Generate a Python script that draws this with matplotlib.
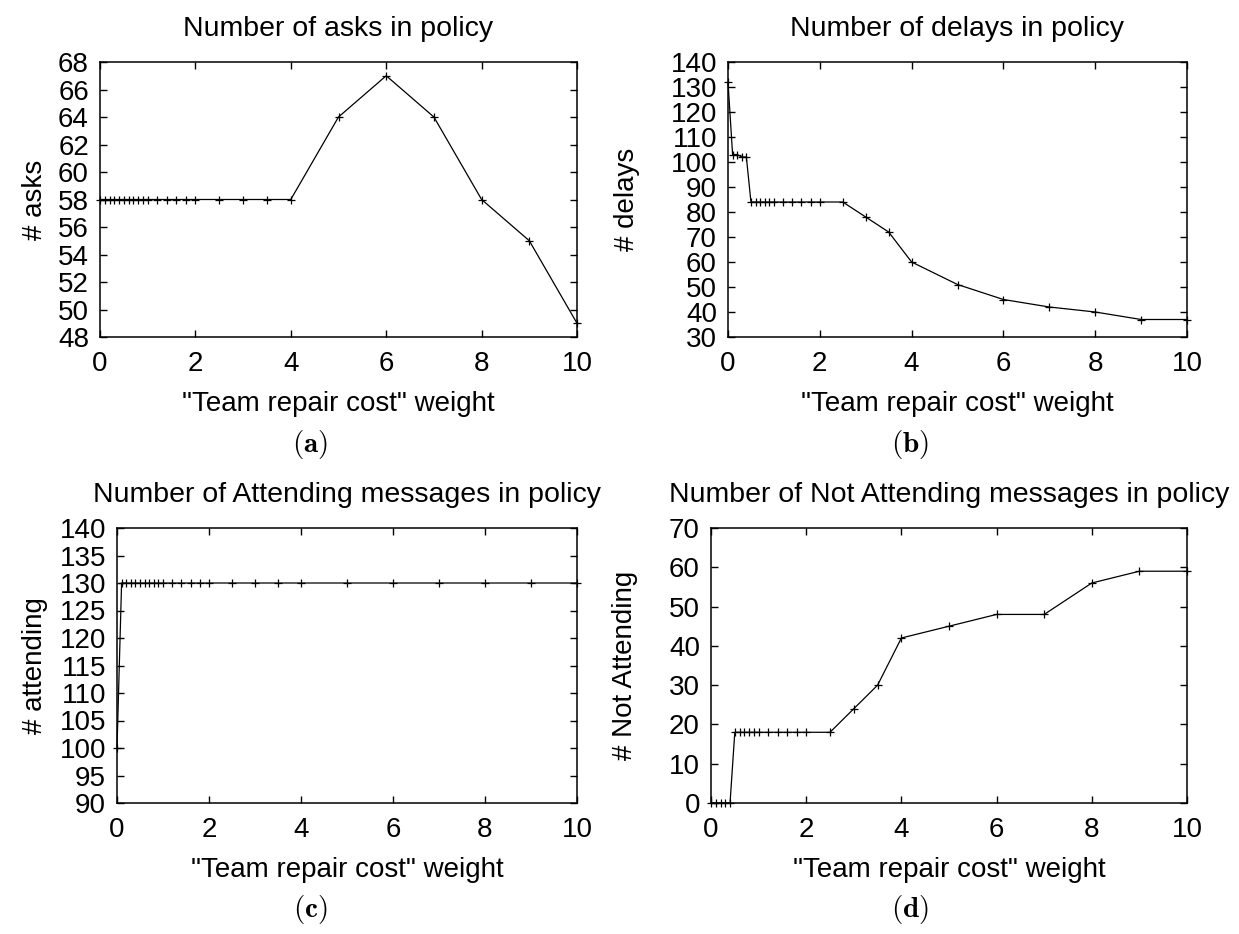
import matplotlib
matplotlib.use("Agg")
import matplotlib.pyplot as plt

plt.rcParams['font.family'] = ['Liberation Sans', 'DejaVu Sans']
plt.rcParams['mathtext.fontset'] = 'cm'

# "Team repair cost" weight values (shared by all four runs)
weights = [0.0, 0.1, 0.2, 0.3, 0.4, 0.5, 0.6, 0.7, 0.8, 0.9, 1.0,
           1.2, 1.4, 1.6, 1.8, 2.0, 2.5, 3.0, 3.5, 4.0,
           5, 6, 7, 8, 9, 10]

asks = [58] * 20 + [64, 67, 64, 58, 55, 49]
delays = [132, 103, 103, 102, 102] + [84] * 12 + [78, 72, 60, 51, 45, 42, 40, 37, 37]
attending = [100] + [130] * 25
not_attending = [0] * 5 + [18] * 12 + [24, 30, 42, 45, 48, 48, 56, 59, 59]

titles = ["Number of asks in policy", "Number of delays in policy",
          "Number of Attending messages in policy",
          "Number of Not Attending messages in policy"]
ylabels = ["# asks", "# delays", "# attending", "# Not Attending"]
captions = ["(a)", "(b)", "(c)", "(d)"]
yticks = [range(48, 69, 2), range(30, 141, 10), range(90, 141, 5), range(0, 71, 10)]
series = [asks, delays, attending, not_attending]

W, H = 1239, 934
fig = plt.figure(figsize=(W / 100, H / 100), dpi=100)

# axes boxes in pixels: left, top, right, bottom
boxes = [(100, 62, 577, 337), (728, 62, 1187, 337),
         (117, 528, 577, 803), (711, 528, 1187, 803)]
caption_x = [310, 910, 310, 910]
ylabel_right = [48, 640, 48, 638]

for i in range(4):
    l, t, r, b = boxes[i]
    ax = fig.add_axes([l / W, 1 - b / H, (r - l) / W, (b - t) / H])
    ax.plot(weights, series[i], color='black', lw=0.9, marker='+',
            ms=6, mew=0.9, clip_on=False)
    ax.set_xlim(0, 10)
    ax.set_xticks(range(0, 11, 2))
    ax.set_yticks(list(yticks[i]))
    ax.set_ylim(yticks[i][0], yticks[i][-1])
    ax.tick_params(direction='in', top=True, right=True, length=5,
                   width=1, labelsize=20, pad=8)
    ax.tick_params(axis='x', pad=10)
    for s in ax.spines.values():
        s.set_linewidth(1.1)
    ax.set_title(titles[i], fontsize=20.5, pad=19)
    ax.set_ylabel(ylabels[i], fontsize=20)
    ax.yaxis.set_label_coords((ylabel_right[i] - l) / (r - l), 0.5)
    ax.set_xlabel('"Team repair cost" weight', fontsize=20, labelpad=10)
    fig.text(caption_x[i] / W, 1 - (b + 107) / H,
             r'$\mathbf{' + captions[i] + '}$', fontsize=21,
             ha='center', va='center')

fig.savefig("out.png", dpi=100)
